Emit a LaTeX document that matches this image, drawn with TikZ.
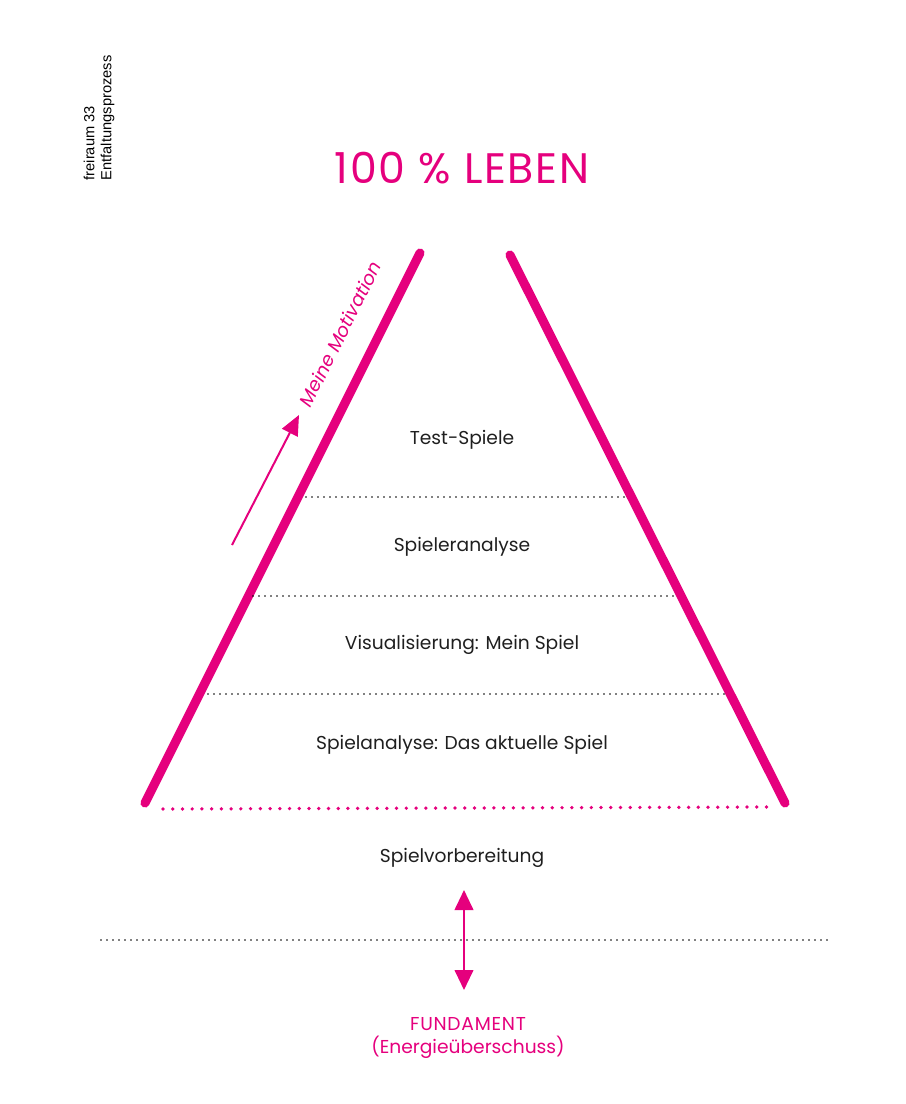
\documentclass[tikz,border=0pt]{standalone}
\usepackage{fontspec}
\setmainfont{Poppins}
\newfontfamily\widefont[LetterSpace=4]{Poppins}
\newfontfamily\arialfont{Liberation Sans}
\usetikzlibrary{arrows.meta}
\definecolor{magenta}{HTML}{E5007D}

\begin{document}
\begin{tikzpicture}[x=0.75pt, y=-0.75pt, >=Triangle,
    pinkbar/.style={magenta, line width=6.8pt, line cap=round},
    blackdots/.style={black, line width=1.4pt, line cap=round, dash pattern=on 0pt off 4.5pt},
    pinkdots/.style={magenta, line width=2.8pt, line cap=round, dash pattern=on 0pt off 7.3pt},
    layer/.style={font=\fontsize{14}{17}\selectfont, text=black!88}]
    \useasboundingbox (0,0) rectangle (906,1104);

    % the two sides of the pyramid
    \coordinate (LT) at (420,253);
    \coordinate (LB) at (145,803);
    \coordinate (RT) at (510,255);
    \coordinate (RB) at (785,803);
    \draw[pinkbar] (LT) -- (LB);
    \draw[pinkbar] (RT) -- (RB);
    \draw[pinkdots] (163,809) -- (772,807);

    % layers
    \draw[blackdots] (306,497) -- (626,497);
    \draw[blackdots] (253,596) -- (676,596);
    \draw[blackdots] (208,694) -- (725,694);
    \draw[blackdots] (101,940) -- (830,940);

    \node[layer] (test) at (462,440) {Test-Spiele};
    \node[layer] (spieler) at (462,547) {Spieleranalyse};
    \node[layer] (visual) at (462,645) {Visualisierung: Mein Spiel};
    \node[layer] (analyse) at (462,745) {Spielanalyse: Das aktuelle Spiel};
    \node[layer] (vorb) at (462,858) {Spielvorbereitung};

    \node[magenta, font=\widefont\fontsize{32}{38}\selectfont] (leben) at (462,168) {100 \% LEBEN};
    \node[magenta, font=\fontsize{14}{17.5}\selectfont, align=center] (fund) at (468,1038)
        {{\widefont FUNDAMENT}\\(Energieüberschuss)};

    % motivation
    \coordinate (m1) at (232,545);
    \coordinate (m2) at (299,415);
    \draw[->, magenta, line width=1.5pt, >={Triangle[length=15pt, width=13pt]}] (m1) -- (m2);
    \node[magenta, rotate=63.4, font=\itshape\fontsize{14}{17}\selectfont] (motiv) at (340,334) {Meine Motivation};

    % fundament arrow
    \coordinate (f1) at (464,890);
    \coordinate (f2) at (464,990);
    \draw[<->, magenta, line width=1.5pt, >={Triangle[length=15pt, width=14pt]}] (f1) -- (f2);

    \node[rotate=90, anchor=north west, align=left, font=\arialfont\fontsize{11}{12.8}\selectfont] (title) at (79,185)
        {freiraum 33\\Entfaltungsprozess};
\end{tikzpicture}
\end{document}
